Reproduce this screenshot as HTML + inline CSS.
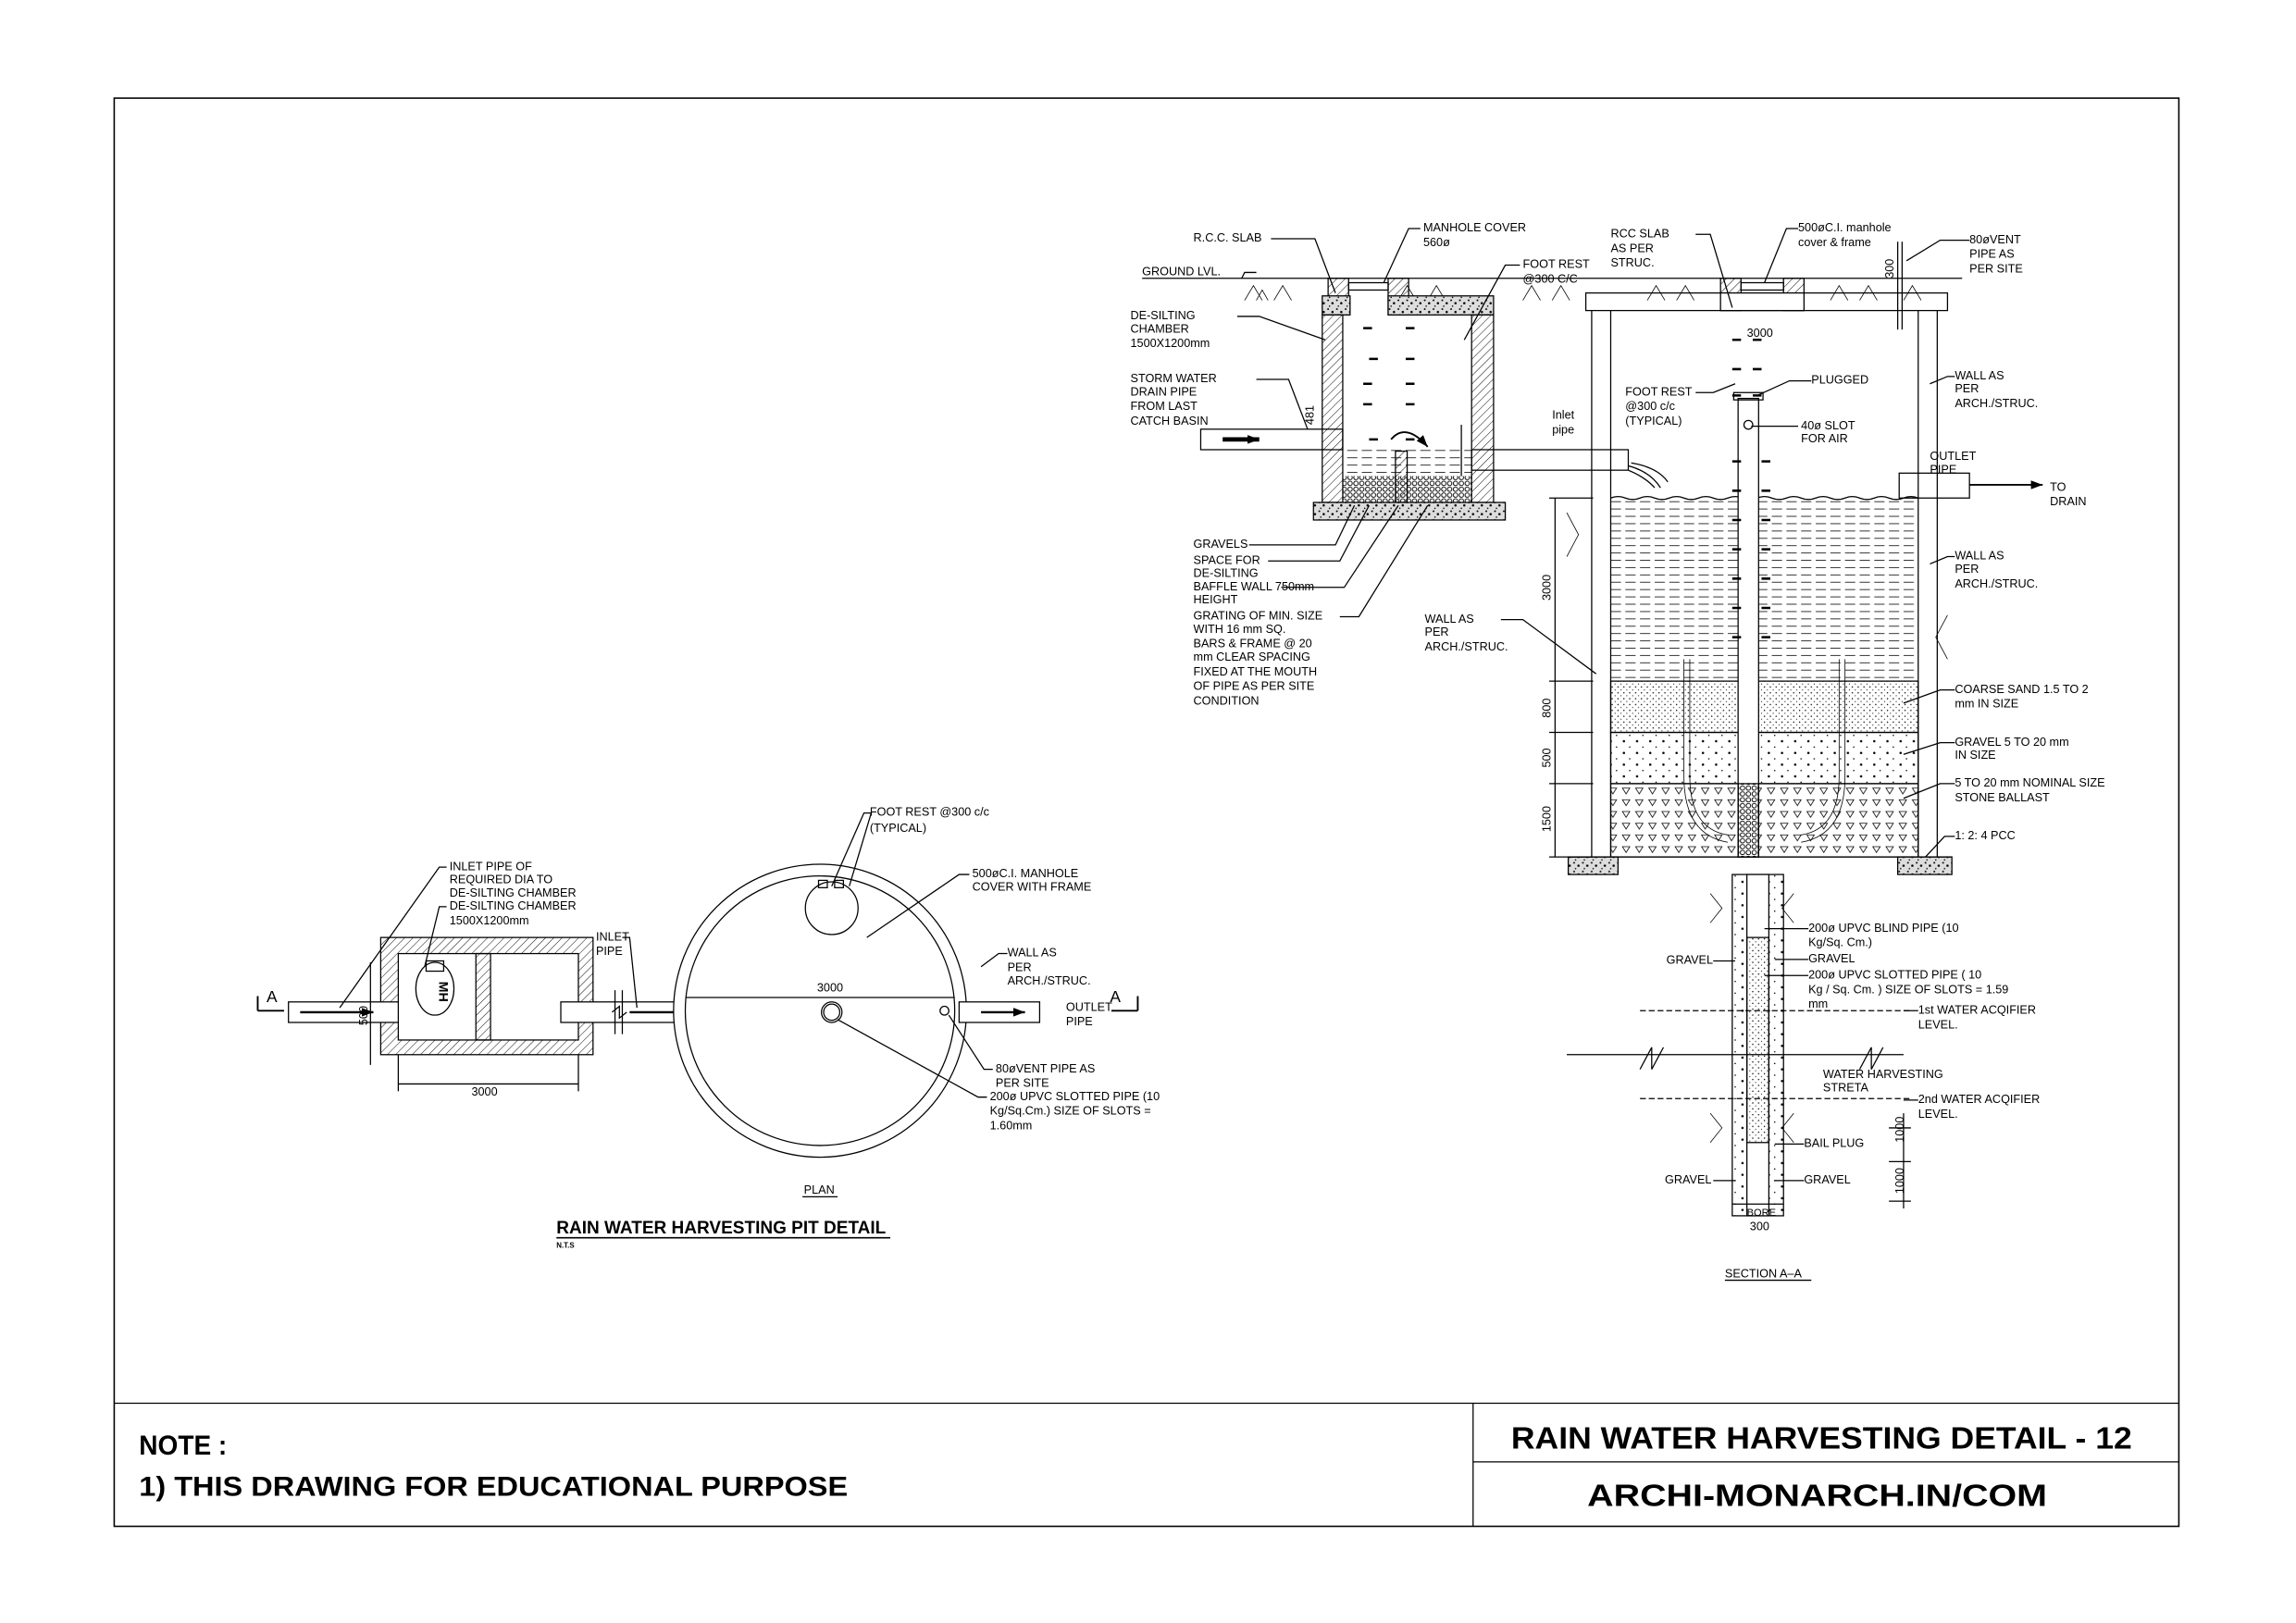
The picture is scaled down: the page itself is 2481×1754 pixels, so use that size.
<!DOCTYPE html>
<html><head><meta charset="utf-8"><style>
html,body{margin:0;padding:0;background:#fff;}
svg{display:block;}
text{font-family:"Liberation Sans",sans-serif;font-size:8px;fill:#000;}
.b{font-weight:bold;}
</style></head><body>
<svg width="2481" height="1754" viewBox="0 0 1568 1108" preserveAspectRatio="none" xmlns="http://www.w3.org/2000/svg">
<defs>
<pattern id="h" width="4" height="4" patternUnits="userSpaceOnUse" patternTransform="rotate(45)"><line x1="0" y1="0" x2="0" y2="4" stroke="#000" stroke-width="0.6"/></pattern>
<pattern id="dots" width="4" height="4" patternUnits="userSpaceOnUse"><circle cx="1" cy="1" r="0.45" fill="#000"/><circle cx="3" cy="3" r="0.35" fill="#000"/></pattern>
<pattern id="gr" width="9" height="8" patternUnits="userSpaceOnUse"><circle cx="2" cy="2" r="0.8" fill="#000"/><circle cx="6" cy="6" r="0.5" fill="#000"/></pattern>
<pattern id="tri" width="9" height="8" patternUnits="userSpaceOnUse"><path d="M1 2 L6 2 L3.5 6 Z" fill="none" stroke="#000" stroke-width="0.5"/></pattern>
<pattern id="wat" width="10" height="5" patternUnits="userSpaceOnUse"><line x1="0" y1="2.5" x2="7" y2="2.5" stroke="#000" stroke-width="0.5"/></pattern>
<pattern id="hex" width="4" height="4" patternUnits="userSpaceOnUse"><circle cx="2" cy="2" r="1.5" fill="none" stroke="#000" stroke-width="0.6"/></pattern>
<pattern id="conc" width="6" height="6" patternUnits="userSpaceOnUse"><rect width="6" height="6" fill="#ddd"/><circle cx="1" cy="1" r="0.6" fill="#000"/><circle cx="4" cy="3" r="0.8" fill="#000"/><circle cx="2" cy="5" r="0.5" fill="#000"/></pattern>
<marker id="ar" markerWidth="8" markerHeight="6" refX="8" refY="3" orient="auto" markerUnits="userSpaceOnUse"><path d="M0 0 L8 3 L0 6 Z" fill="#000"/></marker>
</defs>
<g fill="none" stroke="#000" stroke-width="0.8">
<rect x="78" y="67" width="1410" height="975" stroke-width="1"/>
<line x1="78" y1="958" x2="1488" y2="958"/>
<line x1="1006" y1="958" x2="1006" y2="1042"/>
<line x1="1006" y1="998" x2="1488" y2="998"/>

<line x1="780" y1="190" x2="1340" y2="190"/>
<g stroke-width="0.5">
<path d="M850 205 l6 -10 l6 10 M858 205 l4 -7 l4 7 M870 205 l6 -10 l6 10 M955 205 l6 -10 l6 10 M975 205 l6 -10 l6 10 M1040 205 l6 -10 l6 10 M1060 205 l6 -10 l6 10 M1125 205 l6 -10 l6 10 M1145 205 l6 -10 l6 10 M1250 205 l6 -10 l6 10 M1270 205 l6 -10 l6 10 M1300 205 l6 -10 l6 10"/>
</g>
<rect x="907" y="190" width="14" height="25" fill="url(#h)"/>
<rect x="948" y="190" width="14" height="25" fill="url(#h)"/>
<rect x="921" y="193" width="27" height="5" />
<rect x="903" y="202" width="19" height="13" fill="url(#conc)"/>
<rect x="948" y="202" width="72" height="13" fill="url(#conc)"/>
<rect x="903" y="215" width="14" height="128" fill="url(#h)"/>
<rect x="1005" y="215" width="15" height="128" fill="url(#h)"/>
<rect x="917" y="305" width="88" height="22" fill="url(#wat)" stroke="none"/>
<rect x="917" y="325" width="88" height="18" fill="url(#hex)" stroke="none"/>
<rect x="953" y="308" width="8" height="35" fill="url(#h)"/>
<rect x="897" y="343" width="131" height="12" fill="url(#conc)"/>
<path d="M950 300 q10 -12 25 5" marker-end="url(#ar)" stroke-width="1.2"/>
<g stroke-width="1.6"><path d="M931 224h6M960 224h6M935 245h6M960 245h6M931 262h6M960 262h6M931 276h6M960 276h6M935 300h6M960 300h6"/></g>
<rect x="820" y="293" width="97" height="14"/>
<path d="M835 300 L860 300" stroke-width="3" marker-end="url(#ar)"/>
<rect x="1005" y="307" width="107" height="14"/>
<path d="M1112 321 q12 5 18 12 M1112 318 q15 4 22 15 M1114 316 q18 3 25 13"/>
<line x1="998" y1="290" x2="998" y2="325"/>
<rect x="1083" y="200" width="247" height="12"/>
<rect x="1175" y="190" width="14" height="22" fill="url(#h)"/>
<rect x="1218" y="190" width="14" height="22" fill="url(#h)"/>
<rect x="1189" y="193" width="29" height="5"/>
<rect x="1175" y="200" width="57" height="12" fill="#fff"/>
<line x1="1100" y1="212" x2="1100" y2="585"/>
<line x1="1087" y1="212" x2="1087" y2="585"/>
<line x1="1310" y1="212" x2="1310" y2="585"/>
<line x1="1323" y1="212" x2="1323" y2="585"/>
<rect x="1100" y="340" width="210" height="125" fill="url(#wat)" stroke="none"/>
<path d="M1100 340 q5 -2 10 0 t10 0 t10 0 t10 0 t10 0 t10 0 t10 0 t10 0 t10 0 t10 0 t10 0 t10 0 t10 0 t10 0 t10 0 t10 0 t10 0 t10 0 t10 0 t10 0 t10 0"/>
<rect x="1100" y="465" width="210" height="35" fill="url(#dots)"/>
<rect x="1100" y="500" width="210" height="35" fill="url(#gr)"/>
<rect x="1100" y="535" width="210" height="50" fill="url(#tri)"/>
<rect x="1071" y="585" width="34" height="12" fill="url(#conc)"/>
<rect x="1296" y="585" width="37" height="12" fill="url(#conc)"/>
<line x1="1071" y1="585" x2="1333" y2="585"/>
<rect x="1187" y="272" width="14" height="313" fill="#fff"/>
<rect x="1184" y="268" width="20" height="5"/>
<circle cx="1194" cy="290" r="3"/>
<rect x="1187" y="535" width="14" height="50" fill="url(#hex)"/>
<path d="M1150 450 v80 q0 40 30 45 M1154 450 v80 q0 36 26 40 M1260 450 v80 q0 40 -30 45 M1256 450 v80 q0 36 -26 40" stroke-width="0.5"/>
<g stroke-width="1.6"><path d="M1183 232h6M1197 232h6M1183 252h6M1197 252h6M1183 270h6M1197 270h6M1183 315h6M1203 315h6M1183 335h6M1203 335h6M1183 355h6M1203 355h6M1183 375h6M1203 375h6M1183 395h6M1203 395h6M1183 415h6M1203 415h6M1183 435h6M1203 435h6"/></g>
<line x1="1296" y1="165" x2="1296" y2="225"/>
<line x1="1299" y1="165" x2="1299" y2="225"/>
<rect x="1297" y="323" width="48" height="17"/>
<line x1="1345" y1="331" x2="1395" y2="331" stroke-width="1.2" marker-end="url(#ar)"/>
<rect x="1183" y="597" width="35" height="233" fill="url(#gr)"/>
<rect x="1193" y="597" width="15" height="233" fill="#fff"/>
<rect x="1193" y="640" width="15" height="140" fill="url(#dots)"/>
<line x1="1120" y1="690" x2="1305" y2="690" stroke-dasharray="4 2"/>
<line x1="1070" y1="720" x2="1300" y2="720"/>
<path d="M1120 730 l8 -15 l0 15 l8 -15 M1270 730 l8 -15 l0 15 l8 -15"/>
<line x1="1120" y1="750" x2="1305" y2="750" stroke-dasharray="4 2"/>
<path d="M1168 610 l8 10 l-8 10 M1225 610 l-8 10 l8 10 M1168 760 l8 10 l-8 10 M1225 760 l-8 10 l8 10 M1070 350 l8 15 l-8 15 M1330 420 l-8 15 l8 15" stroke-width="0.5"/>
<line x1="1062" y1="340" x2="1062" y2="585"/>
<path d="M1058 340h30M1058 465h30M1058 500h30M1058 535h30M1058 585h30"/>
<line x1="1290" y1="770" x2="1305" y2="770"/><line x1="1290" y1="793" x2="1305" y2="793"/><line x1="1290" y1="820" x2="1305" y2="820"/><line x1="1300" y1="760" x2="1300" y2="825"/>
<line x1="1183" y1="822" x2="1218" y2="822"/>
<path d="M868 163 L898 163 L912 200 M970 156 L962 156 L945 193 M858 186 L850 186 L848 190 M1038 181 L1028 181 L1000 232 M845 216 L860 216 L905 232 M858 259 L880 259 L893 293 M853 372 L912 372 L925 345 M866 383 L915 383 L935 345 M875 401 L918 401 L955 345 M915 421 L928 421 L975 345 M1158 160 L1168 160 L1183 210 M1228 156 L1220 156 L1205 193 M1345 164 L1325 164 L1302 178 M1158 268 L1170 268 L1185 262 M1237 260 L1222 260 L1200 270 M1228 291 L1196 291 M1335 257 L1330 257 L1318 262 M1335 380 L1330 380 L1318 385 M1025 423 L1040 423 L1090 460 M1335 471 L1325 471 L1300 480 M1335 507 L1325 507 L1300 515 M1335 535 L1325 535 L1300 545 M1335 571 L1328 571 L1315 585 M1235 634 L1205 634 M1235 655 L1212 655 M1235 666 L1205 666 M1310 690 L1300 690 M1310 751 L1300 751 M1232 781 L1212 781 M1232 806 L1212 806 M1170 656 L1185 656 M1170 806 L1185 806"/>

<rect x="260" y="640" width="145" height="80" fill="url(#h)"/>
<rect x="272" y="651" width="123" height="59" fill="#fff"/>
<rect x="325" y="651" width="10" height="59" fill="url(#h)"/>
<ellipse cx="297" cy="675" rx="13" ry="18"/>
<rect x="291" y="656" width="12" height="7"/>
<rect x="197" y="684" width="75" height="14" fill="#fff"/>
<rect x="383" y="684" width="107" height="14" fill="#fff"/>
<path d="M420 676 v30 M425 676 v30 M418 691 l5 -4 l0 8 l5 -4"/>
<line x1="205" y1="691" x2="255" y2="691" stroke-width="1.5" marker-end="url(#ar)"/>
<line x1="430" y1="691" x2="480" y2="691" stroke-width="1.5" marker-end="url(#ar)"/>
<circle cx="560" cy="690" r="100" fill="#fff"/>
<circle cx="560" cy="690" r="92"/>
<circle cx="568" cy="620" r="18"/>
<rect x="559" y="601" width="6" height="5"/><rect x="570" y="601" width="6" height="5"/>
<circle cx="568" cy="691" r="7"/><circle cx="568" cy="691" r="5.5"/>
<circle cx="645" cy="690" r="3"/>
<rect x="655" y="684" width="55" height="14" fill="#fff"/>
<line x1="670" y1="691" x2="700" y2="691" stroke-width="1.5" marker-end="url(#ar)"/>
<line x1="468" y1="681" x2="652" y2="681"/>
<line x1="272" y1="740" x2="395" y2="740"/><line x1="272" y1="720" x2="272" y2="745"/><line x1="395" y1="720" x2="395" y2="745"/>
<line x1="253" y1="657" x2="253" y2="727"/>
<path d="M176 690 v-10 M176 690 h18 M777 690 v-10 M777 690 h-18" stroke-width="1.2"/>
<path d="M305 592 L300 592 L232 688 M305 619 L300 619 L290 660 M425 640 L430 640 L435 688 M595 555 L590 555 L568 605 M595 555 L580 605 M662 597 L655 597 L592 640 M688 651 L682 651 L670 660 M678 730 L672 730 L648 693 M674 749 L668 749 L572 696"/>
<line x1="548" y1="817" x2="572" y2="817"/>
<line x1="380" y1="845" x2="608" y2="845" stroke-width="1"/>
<line x1="1178" y1="874" x2="1237" y2="874"/>
</g>

<text x="815" y="165">R.C.C. SLAB</text>
<text x="972" y="158">MANHOLE COVER</text><text x="972" y="168">560ø</text>
<text x="780" y="188">GROUND LVL.</text>
<text x="1040" y="183">FOOT REST</text><text x="1040" y="193">@300 C/C</text>
<text x="772" y="218">DE-SILTING</text><text x="772" y="227">CHAMBER</text><text x="772" y="237">1500X1200mm</text>
<text x="772" y="261">STORM WATER</text><text x="772" y="270">DRAIN PIPE</text><text x="772" y="280">FROM LAST</text><text x="772" y="290">CATCH BASIN</text>
<text x="897" y="290" transform="rotate(-90 897 290)">481</text>
<text x="815" y="374">GRAVELS</text><text x="815" y="385">SPACE FOR</text><text x="815" y="394">DE-SILTING</text><text x="815" y="403">BAFFLE WALL 750mm</text><text x="815" y="412">HEIGHT</text><text x="815" y="423">GRATING OF MIN. SIZE</text><text x="815" y="432">WITH 16 mm SQ.</text><text x="815" y="442">BARS &amp; FRAME @ 20</text><text x="815" y="451">mm CLEAR SPACING</text><text x="815" y="461">FIXED AT THE MOUTH</text><text x="815" y="471">OF PIPE AS PER SITE</text><text x="815" y="481">CONDITION</text>
<text x="1100" y="162">RCC SLAB</text><text x="1100" y="172">AS PER</text><text x="1100" y="182">STRUC.</text>
<text x="1228" y="158">500øC.I.     manhole</text><text x="1228" y="168">cover &amp;   frame</text>
<text x="1345" y="166">80øVENT</text><text x="1345" y="176">PIPE AS</text><text x="1345" y="186">PER SITE</text>
<text x="1293" y="190" transform="rotate(-90 1293 190)">300</text>
<text x="1193" y="230">3000</text>
<text x="1110" y="270">FOOT REST</text><text x="1110" y="280">@300 c/c</text><text x="1110" y="290">(TYPICAL)</text>
<text x="1237" y="262">PLUGGED</text><text x="1230" y="293">40ø SLOT</text><text x="1230" y="302">FOR AIR</text>
<text x="1060" y="286">Inlet</text><text x="1060" y="296">pipe</text>
<text x="1335" y="259">WALL AS</text><text x="1335" y="268">PER</text><text x="1335" y="278">ARCH./STRUC.</text>
<text x="1318" y="314">OUTLET</text><text x="1318" y="323">PIPE</text>
<text x="1400" y="335">TO</text><text x="1400" y="345">DRAIN</text>
<text x="1335" y="382">WALL AS</text><text x="1335" y="391">PER</text><text x="1335" y="401">ARCH./STRUC.</text>
<text x="973" y="425">WALL AS</text><text x="973" y="434">PER</text><text x="973" y="444">ARCH./STRUC.</text>
<text x="1335" y="473">COARSE SAND 1.5 TO 2</text><text x="1335" y="483">mm IN SIZE</text>
<text x="1335" y="509">GRAVEL 5 TO 20 mm</text><text x="1335" y="518">IN SIZE</text>
<text x="1335" y="537">5 TO 20 mm NOMINAL SIZE</text><text x="1335" y="547">STONE BALLAST</text>
<text x="1335" y="573">1: 2: 4    PCC</text>
<text x="1059" y="410" transform="rotate(-90 1059 410)">3000</text>
<text x="1059" y="490" transform="rotate(-90 1059 490)">800</text>
<text x="1059" y="524" transform="rotate(-90 1059 524)">500</text>
<text x="1059" y="568" transform="rotate(-90 1059 568)">1500</text>
<text x="1235" y="636">200ø UPVC BLIND  PIPE (10</text><text x="1235" y="646">Kg/Sq. Cm.)</text><text x="1235" y="657">GRAVEL</text><text x="1235" y="668">200ø UPVC SLOTTED PIPE ( 10</text><text x="1235" y="678">Kg / Sq. Cm. ) SIZE OF SLOTS = 1.59</text><text x="1235" y="688">mm</text>
<text x="1138" y="658">GRAVEL</text>
<text x="1310" y="692">1st WATER ACQIFIER</text><text x="1310" y="702">LEVEL.</text>
<text x="1245" y="736">WATER HARVESTING</text><text x="1245" y="745">STRETA</text>
<text x="1310" y="753">2nd WATER ACQIFIER</text><text x="1310" y="763">LEVEL.</text>
<text x="1232" y="783">BAIL PLUG</text>
<text x="1137" y="808">GRAVEL</text><text x="1232" y="808">GRAVEL</text>
<text x="1300" y="780" transform="rotate(-90 1300 780)">1000</text>
<text x="1300" y="815" transform="rotate(-90 1300 815)">1000</text>
<text x="1193" y="830" style="font-size:7px">BORE</text><text x="1195" y="840">300</text>
<text x="1178" y="872">SECTION  A–A</text>

<text x="594" y="557">FOOT REST @300 c/c</text><text x="594" y="568">(TYPICAL)</text>
<text x="307" y="594">INLET PIPE OF</text><text x="307" y="603">REQUIRED DIA TO</text><text x="307" y="612">DE-SILTING CHAMBER</text><text x="307" y="621">DE-SILTING CHAMBER</text><text x="307" y="631">1500X1200mm</text>
<text x="407" y="642">INLET</text><text x="407" y="652">PIPE</text>
<text x="664" y="599">500øC.I. MANHOLE</text><text x="664" y="608">COVER WITH FRAME</text>
<text x="688" y="653">WALL AS</text><text x="688" y="663">PER</text><text x="688" y="672">ARCH./STRUC.</text>
<text x="558" y="677">3000</text>
<text x="728" y="690">OUTLET</text><text x="728" y="700">PIPE</text>
<text x="182" y="684" style="font-size:11px">A</text><text x="758" y="684" style="font-size:11px">A</text>
<text x="251" y="700" transform="rotate(-90 251 700)">500</text>
<text x="300" y="670" transform="rotate(90 300 670)" style="font-size:9px" class="b">MH</text>
<text x="680" y="732">80øVENT PIPE AS</text><text x="680" y="742">PER SITE</text>
<text x="676" y="751">200ø UPVC SLOTTED PIPE (10</text><text x="676" y="761">Kg/Sq.Cm.) SIZE OF SLOTS =</text><text x="676" y="771">1.60mm</text>
<text x="322" y="748">3000</text>
<text x="549" y="815">PLAN</text>
<text x="380" y="842" class="b" style="font-size:12px" textLength="225" lengthAdjust="spacingAndGlyphs">RAIN WATER HARVESTING PIT DETAIL</text>
<text x="380" y="852" class="b" style="font-size:5px">N.T.S</text>

<text x="95" y="993" class="b" style="font-size:19px" textLength="60" lengthAdjust="spacingAndGlyphs">NOTE :</text>
<text x="95" y="1021" class="b" style="font-size:19px" textLength="484" lengthAdjust="spacingAndGlyphs">1) THIS DRAWING FOR EDUCATIONAL PURPOSE</text>
<text x="1032" y="989" class="b" style="font-size:21px" textLength="424" lengthAdjust="spacingAndGlyphs">RAIN WATER HARVESTING DETAIL - 12</text>
<text x="1084" y="1028" class="b" style="font-size:21px" textLength="314" lengthAdjust="spacingAndGlyphs">ARCHI-MONARCH.IN/COM</text>
</svg>
</body></html>
